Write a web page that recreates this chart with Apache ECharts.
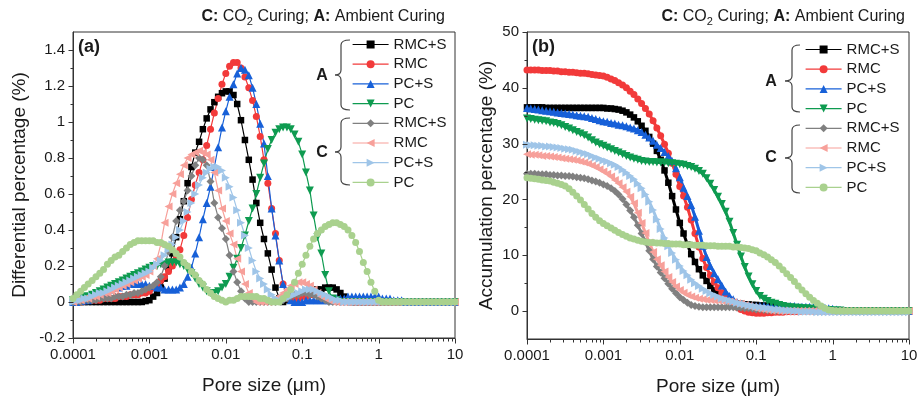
<!DOCTYPE html>
<html>
<head>
<meta charset="utf-8">
<script src="https://cdn.jsdelivr.net/npm/echarts@6/dist/echarts.min.js"></script>
<style>
html,body{margin:0;padding:0;background:#ffffff;}
#chart{width:921px;height:401px;}
</style>
</head>
<body>
<div id="chart"></div>
<script>
// Pore diameters (µm) at which the MIP curves are sampled
const poreSize = [
  1.00e-4,1.12e-4,1.26e-4,1.41e-4,1.58e-4,1.78e-4,2.00e-4,2.24e-4,2.51e-4,2.82e-4,3.16e-4,3.55e-4,3.98e-4,4.47e-4,5.01e-4,5.62e-4,6.31e-4,7.08e-4,7.94e-4,8.91e-4,
  1.00e-3,1.12e-3,1.26e-3,1.41e-3,1.58e-3,1.78e-3,2.00e-3,2.24e-3,2.51e-3,2.82e-3,3.16e-3,3.55e-3,3.98e-3,4.47e-3,5.01e-3,5.62e-3,6.31e-3,7.08e-3,7.94e-3,8.91e-3,
  1.00e-2,1.12e-2,1.26e-2,1.41e-2,1.58e-2,1.78e-2,2.00e-2,2.24e-2,2.51e-2,2.82e-2,3.16e-2,3.55e-2,3.98e-2,4.47e-2,5.01e-2,5.62e-2,6.31e-2,7.08e-2,7.94e-2,8.91e-2,
  0.100,0.112,0.126,0.141,0.158,0.178,0.200,0.224,0.251,0.282,0.316,0.355,0.398,0.447,0.501,0.562,0.631,0.708,0.794,0.891,
  1.00,1.12,1.26,1.41,1.58,1.78,2.00,2.24,2.51,2.82,3.16,3.55,3.98,4.47,5.01,5.62,6.31,7.08,7.94,8.91,
  10.0
];

// Mix labels and curing groups
const mixLabels = ['RMC+S', 'RMC', 'PC+S', 'PC'];
const curingGroups = ['A', 'C'];

// (a) Differential pore size distribution (%)
const diffA_RMCS = [
  0,0,0,0,0,0,0,0,0,0,0,0,0,0,0,0,0,0,0,0.005,
  0.01,0.03,0.05,0.08,0.13,0.19,0.27,0.36,0.46,0.56,0.66,0.75,0.83,0.89,0.96,1.02,1.07,1.11,1.14,1.16,
  1.17,1.17,1.15,1.10,1.01,0.90,0.79,0.68,0.55,0.44,0.35,0.27,0.18,0.08,0.02,0,0.01,0.02,0.03,0.04,
  0.05,0.05,0.06,0.06,0.07,0.07,0.08,0.08,0.08,0.07,0.05,0.03,0.01,0,0,0,0,0,0,0,
  0,0,0,0,0,0,0,0,0,0,0,0,0,0,0,0,0,0,0,0,
  0
];
const diffA_RMC = [
  0,0,0,0.005,0.01,0.01,0.01,0.01,0.02,0.02,0.02,0.02,0.03,0.03,0.03,0.04,0.04,0.04,0.05,0.05,
  0.06,0.08,0.10,0.12,0.14,0.17,0.20,0.24,0.29,0.37,0.47,0.57,0.65,0.72,0.79,0.87,0.96,1.05,1.13,1.21,
  1.27,1.31,1.33,1.33,1.30,1.25,1.19,1.12,1.03,0.92,0.79,0.66,0.52,0.38,0.23,0.10,0.03,0.01,0.01,0.02,
  0.03,0.03,0.04,0.04,0.04,0.03,0.03,0.02,0.01,0.01,0,0,0,0,0,0,0,0,0,0,
  0,0,0,0,0,0,0,0,0,0,0,0,0,0,0,0,0,0,0,0,
  0
];
const diffA_PCS = [
  0,0,0.005,0.01,0.01,0.02,0.03,0.04,0.05,0.06,0.07,0.08,0.08,0.09,0.09,0.10,0.10,0.10,0.10,0.10,
  0.09,0.09,0.08,0.08,0.07,0.07,0.07,0.07,0.08,0.10,0.14,0.19,0.27,0.36,0.46,0.55,0.64,0.75,0.86,0.97,
  1.06,1.14,1.21,1.27,1.30,1.29,1.26,1.19,1.10,0.99,0.88,0.70,0.52,0.37,0.23,0.10,0.03,0.01,0,0,
  0,0.01,0.01,0.01,0.01,0.01,0.01,0.01,0.01,0.02,0.02,0.02,0.03,0.03,0.03,0.03,0.03,0.03,0.03,0.03,
  0.03,0.02,0.02,0.02,0.01,0.01,0.01,0,0,0,0,0,0,0,0,0,0,0,0,0,
  0
];
const diffA_PC = [
  0.01,0.01,0.02,0.03,0.03,0.04,0.05,0.06,0.07,0.08,0.09,0.10,0.11,0.12,0.13,0.14,0.15,0.16,0.17,0.18,
  0.19,0.20,0.20,0.21,0.21,0.22,0.22,0.22,0.21,0.20,0.18,0.16,0.13,0.10,0.08,0.06,0.05,0.05,0.06,0.08,
  0.10,0.14,0.19,0.24,0.30,0.37,0.45,0.52,0.60,0.69,0.77,0.85,0.90,0.94,0.96,0.97,0.97,0.96,0.93,0.89,
  0.82,0.72,0.62,0.48,0.36,0.27,0.15,0.06,0.02,0.01,0,0,0,0,0,0,0,0,0,0,
  0,0,0,0,0,0,0,0,0,0,0,0,0,0,0,0,0,0,0,0,
  0
];
const diffC_RMCS = [
  0,0,0,0.01,0.01,0.01,0.01,0.02,0.02,0.02,0.02,0.03,0.03,0.03,0.04,0.04,0.05,0.05,0.06,0.07,
  0.08,0.09,0.11,0.14,0.20,0.28,0.36,0.45,0.51,0.56,0.62,0.70,0.76,0.80,0.79,0.76,0.67,0.55,0.47,0.41,
  0.35,0.26,0.17,0.11,0.06,0.02,0,0,0,0,0,0,0,0,0.01,0.01,0.02,0.03,0.04,0.04,
  0.05,0.05,0.04,0.04,0.03,0.02,0.01,0,0,0,0,0,0,0,0,0,0,0,0,0,
  0,0,0,0,0,0,0,0,0,0,0,0,0,0,0,0,0,0,0,0,
  0
];
const diffC_RMC = [
  0,0.01,0.01,0.02,0.02,0.03,0.03,0.04,0.05,0.05,0.06,0.07,0.08,0.09,0.10,0.11,0.12,0.13,0.14,0.15,
  0.17,0.20,0.24,0.32,0.44,0.53,0.60,0.66,0.71,0.76,0.80,0.82,0.83,0.84,0.83,0.82,0.79,0.72,0.62,0.52,
  0.45,0.38,0.32,0.24,0.17,0.10,0.05,0.02,0,0,0,0,0.01,0.02,0.03,0.05,0.07,0.09,0.10,0.11,
  0.11,0.10,0.09,0.07,0.05,0.03,0.02,0.01,0,0,0,0,0,0,0,0,0,0,0,0,
  0,0,0,0,0,0,0,0,0,0,0,0,0,0,0,0,0,0,0,0,
  0
];
const diffC_PCS = [
  0,0.01,0.01,0.02,0.02,0.03,0.04,0.05,0.05,0.06,0.07,0.08,0.09,0.10,0.11,0.12,0.13,0.14,0.15,0.16,
  0.17,0.19,0.21,0.23,0.26,0.29,0.32,0.36,0.40,0.45,0.50,0.55,0.60,0.65,0.69,0.72,0.74,0.75,0.75,0.73,
  0.69,0.64,0.58,0.51,0.44,0.37,0.30,0.23,0.17,0.13,0.10,0.07,0.04,0.02,0.01,0.01,0.02,0.03,0.04,0.05,
  0.06,0.07,0.07,0.07,0.06,0.05,0.04,0.03,0.02,0.01,0.01,0,0,0,0,0,0,0,0,0,
  0,0,0,0,0,0,0,0,0,0,0,0,0,0,0,0,0,0,0,0,
  0
];
const diffC_PC = [
  0.02,0.04,0.06,0.08,0.10,0.12,0.14,0.16,0.18,0.21,0.23,0.25,0.26,0.28,0.30,0.32,0.33,0.34,0.34,0.34,
  0.34,0.34,0.33,0.33,0.32,0.31,0.29,0.27,0.25,0.22,0.20,0.17,0.15,0.12,0.10,0.07,0.05,0.03,0.02,0.01,
  0,0.01,0.01,0.02,0.03,0.03,0.03,0.03,0.03,0.02,0.02,0.01,0,0,0,0.02,0.04,0.07,0.11,0.16,
  0.21,0.26,0.31,0.35,0.38,0.40,0.42,0.43,0.44,0.44,0.43,0.42,0.40,0.37,0.33,0.28,0.22,0.17,0.11,0.06,
  0.01,0,0,0,0,0,0,0,0,0,0,0,0,0,0,0,0,0,0,0,
  0
];

// (b) Cumulative intruded pore volume (%)
const cumA_RMCS = [
  36.5,36.5,36.5,36.5,36.5,36.4,36.4,36.4,36.4,36.4,36.4,36.4,36.4,36.4,36.4,36.4,36.4,36.4,36.4,36.4,
  36.4,36.3,36.3,36.2,36.1,35.9,35.6,35.2,34.7,34.0,33.2,32.3,31.2,30.0,28.7,27.1,25.2,23.0,20.6,18.2,
  15.8,13.9,11.9,10.2,8.8,7.5,6.4,5.4,4.5,3.7,3.0,2.5,2.1,1.8,1.6,1.4,1.3,1.2,1.2,1.1,
  1.1,1.0,1.0,0.9,0.9,0.8,0.7,0.6,0.5,0.4,0.4,0.3,0.3,0.2,0.2,0.2,0.1,0.1,0.1,0.1,
  0,0,0,0,0,0,0,0,0,0,0,0,0,0,0,0,0,0,0,0,
  0
];
const cumA_RMC = [
  43.2,43.2,43.2,43.2,43.1,43.1,43.1,43.0,43.0,42.9,42.9,42.8,42.8,42.7,42.6,42.6,42.5,42.4,42.3,42.2,
  42.1,41.9,41.6,41.3,40.9,40.5,40.0,39.4,38.8,38.0,37.2,36.3,35.3,34.1,32.8,31.4,29.9,28.3,26.5,24.5,
  22.3,20.6,18.6,16.3,13.9,11.5,9.4,7.8,6.4,5.2,4.2,3.3,2.6,1.9,1.3,0.7,0.3,0.0,-0.2,-0.3,
  -0.4,-0.4,-0.4,-0.3,-0.3,-0.2,-0.2,-0.2,-0.1,-0.1,-0.1,-0.1,0,0,0,0,0,0,0,0,
  0,0,0,0,0,0,0,0,0,0,0,0,0,0,0,0,0,0,0,0,
  0
];
const cumA_PCS = [
  36.4,36.3,36.2,36.1,36.0,35.9,35.8,35.7,35.6,35.5,35.4,35.3,35.2,35.1,35.0,34.9,34.8,34.6,34.4,34.2,
  34.0,33.9,33.7,33.6,33.4,33.3,33.1,32.9,32.7,32.4,32.1,31.6,31.1,30.5,29.8,29.2,28.5,27.8,26.9,25.6,
  24.0,22.1,20.6,19.0,16.9,14.4,11.7,9.7,8.1,6.8,5.7,4.6,3.5,2.7,2.1,1.6,1.3,1.1,1.0,0.9,
  0.9,0.9,0.9,0.9,0.9,0.9,0.9,0.9,0.9,0.9,0.9,0.8,0.8,0.8,0.8,0.7,0.7,0.6,0.6,0.5,
  0.4,0.3,0.2,0.1,0,0,0,0,0,0,0,0,0,0,0,0,0,0,0,0,
  0
];
const cumA_PC = [
  34.5,34.4,34.3,34.2,34.1,34.0,33.8,33.7,33.5,33.3,33.0,32.7,32.4,32.1,31.8,31.5,31.1,30.6,30.2,29.9,
  29.6,29.3,29.0,28.7,28.4,28.1,27.8,27.5,27.3,27.1,26.9,26.8,26.7,26.7,26.6,26.6,26.6,26.5,26.5,26.4,
  26.3,26.2,26.0,25.8,25.5,25.1,24.6,23.8,22.8,21.7,20.5,19.2,17.8,16.0,14.0,11.9,9.8,7.9,6.2,4.8,
  3.6,2.7,2.2,1.8,1.5,1.3,1.1,0.9,0.8,0.7,0.6,0.6,0.5,0.5,0.4,0.4,0.3,0.3,0.2,0.2,
  0.1,0.1,0.1,0,0,0,0,0,0,0,0,0,0,0,0,0,0,0,0,0,
  0
];
const cumC_RMCS = [
  24.6,24.6,24.6,24.5,24.5,24.5,24.4,24.4,24.3,24.3,24.2,24.2,24.1,24.0,23.9,23.8,23.6,23.4,23.2,23.0,
  22.7,22.4,22.0,21.5,20.9,20.1,19.1,18.0,16.8,15.4,13.9,12.4,10.8,9.3,8.0,6.9,5.9,4.9,4.0,3.2,
  2.5,2.0,1.5,1.1,0.9,0.8,0.7,0.7,0.7,0.7,0.7,0.7,0.7,0.7,0.7,0.6,0.6,0.5,0.5,0.4,
  0.3,0.3,0.2,0.1,0.1,0,0,0,0,0,0,0,0,0,0,0,0,0,0,0,
  0,0,0,0,0,0,0,0,0,0,0,0,0,0,0,0,0,0,0,0,
  0
];
const cumC_RMC = [
  28.1,28.0,28.0,27.9,27.8,27.8,27.7,27.6,27.5,27.4,27.3,27.2,27.1,27.0,26.8,26.6,26.4,26.1,25.8,25.4,
  25.0,24.6,24.1,23.5,22.9,22.2,21.4,20.5,19.3,17.6,15.8,14.0,12.3,10.6,9.3,8.2,7.1,6.1,5.2,4.4,
  3.8,3.3,2.9,2.6,2.4,2.2,2.1,2.0,2.0,1.9,1.9,1.8,1.8,1.7,1.6,1.4,1.3,1.1,0.9,0.7,
  0.5,0.4,0.3,0.2,0.1,0.1,0,0,0,0,0,0,0,0,0,0,0,0,0,0,
  0,0,0,0,0,0,0,0,0,0,0,0,0,0,0,0,0,0,0,0,
  0
];
const cumC_PCS = [
  29.8,29.7,29.7,29.6,29.6,29.5,29.5,29.4,29.3,29.2,29.1,29.0,28.9,28.7,28.5,28.3,28.1,27.8,27.5,27.3,
  27.0,26.8,26.5,26.2,25.8,25.3,24.8,24.2,23.6,22.8,22.0,20.9,19.6,18.1,16.4,14.7,13.1,11.6,10.4,9.2,
  8.1,7.2,6.4,5.6,5.0,4.5,4.0,3.6,3.2,2.9,2.6,2.3,2.1,1.9,1.7,1.5,1.3,1.2,1.0,0.9,
  0.8,0.7,0.6,0.5,0.4,0.3,0.3,0.2,0.1,0.1,0,0,-0.1,-0.1,-0.1,-0.1,-0.2,-0.2,-0.2,-0.2,
  -0.2,-0.2,-0.2,-0.2,-0.2,-0.2,-0.2,-0.2,-0.2,-0.2,-0.2,-0.2,-0.2,-0.2,-0.2,-0.2,-0.2,-0.2,-0.2,-0.2,
  -0.2
];
const cumC_PC = [
  23.9,23.8,23.7,23.6,23.5,23.4,23.3,23.1,22.9,22.7,22.4,21.9,21.3,20.6,19.9,19.1,18.3,17.5,16.8,16.2,
  15.7,15.3,14.9,14.5,14.1,13.7,13.4,13.1,12.9,12.7,12.5,12.4,12.3,12.3,12.2,12.2,12.1,12.1,12.0,12.0,
  12.0,11.9,11.9,11.9,11.8,11.8,11.8,11.7,11.7,11.7,11.6,11.6,11.6,11.6,11.5,11.5,11.4,11.3,11.2,11.0,
  10.8,10.4,10.1,9.7,9.2,8.7,8.1,7.4,6.7,6.0,5.3,4.5,3.8,3.1,2.5,1.9,1.4,0.9,0.5,0.2,
  0.1,0,0,0,0,0,0,0,0,0,0,0,0,0,0,0,0,0,0,0,
  0
];

// Axis tick values and labels
const poreTickLabels = ['0.0001', '0.001', '0.01', '0.1', '1', '10'];
const poreMajorTicks = [1e-4, 1e-3, 1e-2, 1e-1, 1, 10];
const poreMinorTicks = [
  2e-4,3e-4,4e-4,5e-4,6e-4,7e-4,8e-4,9e-4,
  2e-3,3e-3,4e-3,5e-3,6e-3,7e-3,8e-3,9e-3,
  0.02,0.03,0.04,0.05,0.06,0.07,0.08,0.09,
  0.2,0.3,0.4,0.5,0.6,0.7,0.8,0.9,
  2,3,4,5,6,7,8,9
];
const diffMajorTicks = [-0.2, 0, 0.2, 0.4, 0.6, 0.8, 1.0, 1.2, 1.4];
const diffMinorTicks = [-0.1, 0.1, 0.3, 0.5, 0.7, 0.9, 1.1, 1.3];
const cumMajorTicks = [0, 10, 20, 30, 40, 50];
const cumMinorTicks = [5, 15, 25, 35, 45];

// ---- styling ----
const FONT = "'Liberation Sans', Arial, sans-serif";
const AXIS_COLOR = '#333333';
const TEXT_COLOR = '#1a1a1a';
const TICK_OUT = 1;          // 1 = ticks point outwards
const MAJOR_LEN = 5, MINOR_LEN = 3;

const seriesStyles = [
  { color: '#000000', symbol: 'rect', size: 6.5 },
  { color: '#f23a3a', symbol: 'circle', size: 7 },
  { color: '#1760d8', symbol: 'triangle', size: 8 },
  { color: '#0e9b50', symbol: 'path://M0,0L10,0L5,9Z', size: 8 },
  { color: '#808080', symbol: 'diamond', size: 8 },
  { color: '#f7a09a', symbol: 'path://M9,0L9,10L0,5Z', size: 8 },
  { color: '#9fc5e8', symbol: 'path://M0,0L0,10L9,5Z', size: 8 },
  { color: '#a9d18e', symbol: 'circle', size: 7 }
];

const diffData = [diffA_RMCS, diffA_RMC, diffA_PCS, diffA_PC, diffC_RMCS, diffC_RMC, diffC_PCS, diffC_PC];
const cumData = [cumA_RMCS, cumA_RMC, cumA_PCS, cumA_PC, cumC_RMCS, cumC_RMC, cumC_PCS, cumC_PC];

function seriesName(panel, i) {
  return panel + '-' + curingGroups[Math.floor(i / 4)] + '-' + mixLabels[i % 4];
}

function curveSeries(panel, axisIdx, dataList, lineWidth) {
  return dataList.map((vals, i) => {
    const st = seriesStyles[i];
    return {
      name: seriesName(panel, i),
      type: 'line',
      xAxisIndex: axisIdx,
      yAxisIndex: axisIdx,
      data: poreSize.map((x, j) => [x, vals[j]]),
      symbol: st.symbol,
      symbolSize: st.size,
      showSymbol: true,
      showAllSymbol: true,
      lineStyle: { color: st.color, width: lineWidth },
      itemStyle: { color: st.color, borderWidth: 0 },
      emphasis: { disabled: true },
      animation: false,
      z: 2
    };
  });
}

// Tick marks drawn through the axes' own coordinate mapping
function tickSeries(axisIdx, xFloor, yFloor, xMaj, xMin, yMaj, yMin) {
  const items = [];
  xMaj.forEach(v => items.push([v, yFloor, 0, MAJOR_LEN]));
  xMin.forEach(v => items.push([v, yFloor, 0, MINOR_LEN]));
  yMaj.forEach(v => items.push([xFloor, v, 1, MAJOR_LEN]));
  yMin.forEach(v => items.push([xFloor, v, 1, MINOR_LEN]));
  return {
    type: 'custom',
    xAxisIndex: axisIdx,
    yAxisIndex: axisIdx,
    silent: true,
    clip: false,
    z: 5,
    animation: false,
    data: items,
    renderItem: function (params, api) {
      const p = api.coord([api.value(0), api.value(1)]);
      const kind = api.value(2);
      const len = api.value(3);
      const x = Math.round(p[0]) + 0.5;
      const y = Math.round(p[1]) + 0.5;
      const shape = kind === 0
        ? { x1: x, y1: y, x2: x, y2: y + TICK_OUT * len }
        : { x1: x, y1: y, x2: x - TICK_OUT * len, y2: y };
      return { type: 'line', shape: shape, style: { stroke: AXIS_COLOR, lineWidth: 1 } };
    }
  };
}

// Curly brace made of straight strokes and quadratic hooks
function braceEls(xv, y0, y1, ym, xt, xe) {
  const r = 5;
  const st = { stroke: '#444444', lineWidth: 1.2, fill: null };
  const curve = (x1, y1_, cx, cy, x2, y2) => ({
    type: 'bezierCurve', silent: true, style: st,
    shape: { x1: x1, y1: y1_, cpx1: cx, cpy1: cy, x2: x2, y2: y2 }
  });
  const seg = (x1, y1_, x2, y2) => ({
    type: 'line', silent: true, style: st, shape: { x1: x1, y1: y1_, x2: x2, y2: y2 }
  });
  return [
    curve(xe, y0, xv, y0, xv, y0 + r),
    seg(xv, y0 + r, xv, ym - r),
    curve(xv, ym - r, xv, ym, xt, ym),
    curve(xt, ym, xv, ym, xv, ym + r),
    seg(xv, ym + r, xv, y1 - r),
    curve(xv, y1 - r, xv, y1, xe, y1)
  ];
}

function poreAxis(gridIdx) {
  return {
    type: 'log', logBase: 10, gridIndex: gridIdx,
    min: 1e-4, max: 10,
    name: 'Pore size (\u03bcm)', nameLocation: 'middle', nameGap: 38,
    nameTextStyle: { fontFamily: FONT, fontSize: 19, color: TEXT_COLOR },
    axisLine: { show: true, onZero: false, lineStyle: { color: AXIS_COLOR, width: 1 } },
    axisTick: { show: false },
    minorTick: { show: false },
    splitLine: { show: false },
    axisLabel: {
      margin: 9, fontFamily: FONT, fontSize: 15, color: TEXT_COLOR,
      formatter: v => poreTickLabels[Math.round(Math.log10(v)) + 4]
    }
  };
}

const legendCommon = {
  orient: 'vertical',
  itemWidth: 36, itemHeight: 10, itemGap: 4.7,
  padding: 0,
  selectedMode: false,
  lineStyle: { width: 1.2 },
  textStyle: { fontFamily: FONT, fontSize: 15, color: TEXT_COLOR, lineHeight: 15 },
  formatter: name => name.split('-').slice(2).join('-')
};

const titleRich = {
  b: { fontFamily: FONT, fontSize: 16, fontWeight: 'bold', fill: TEXT_COLOR, lineHeight: 20 },
  n: { fontFamily: FONT, fontSize: 16, fill: TEXT_COLOR, lineHeight: 20 },
  s: { fontFamily: FONT, fontSize: 11, fill: TEXT_COLOR, lineHeight: 20, verticalAlign: 'bottom' }
};
const titleText = '{b|C:}{n| CO}{s|2}{n| Curing; }{b|A:}{n| Ambient Curing}';

function textEl(x, y, text, size, weight, align) {
  return {
    type: 'text', x: x, y: y, silent: true,
    style: { text: text, fontFamily: FONT, fontSize: size, fontWeight: weight,
      fill: TEXT_COLOR, align: align, verticalAlign: 'middle' }
  };
}

const option = {
  backgroundColor: '#ffffff',
  animation: false,
  grid: [
    { left: 73, top: 32, width: 382, height: 306, show: true, borderColor: AXIS_COLOR, borderWidth: 1, backgroundColor: 'transparent', containLabel: false, outerBoundsMode: 'none' },
    { left: 527, top: 32, width: 382, height: 307, show: true, borderColor: AXIS_COLOR, borderWidth: 1, backgroundColor: 'transparent', containLabel: false, outerBoundsMode: 'none' }
  ],
  xAxis: [poreAxis(0), poreAxis(1)],
  yAxis: [
    {
      type: 'value', gridIndex: 0, min: -0.2, max: 1.5, interval: 0.2,
      name: 'Differential percentage (%)', nameLocation: 'middle', nameGap: 44,
      nameTextStyle: { fontFamily: FONT, fontSize: 19, color: TEXT_COLOR },
      axisLine: { show: true, onZero: false, lineStyle: { color: AXIS_COLOR, width: 1 } },
      axisTick: { show: false }, splitLine: { show: false },
      axisLabel: {
        margin: 8, fontFamily: FONT, fontSize: 15, color: TEXT_COLOR,
        formatter: v => (v > 1.45 ? '' : String(+v.toFixed(1)))
      }
    },
    {
      type: 'value', gridIndex: 1, min: -5, max: 50, interval: 5,
      name: 'Accumulation percentage (%)', nameLocation: 'middle', nameGap: 31,
      nameTextStyle: { fontFamily: FONT, fontSize: 19, color: TEXT_COLOR },
      axisLine: { show: true, onZero: false, lineStyle: { color: AXIS_COLOR, width: 1 } },
      axisTick: { show: false }, splitLine: { show: false },
      axisLabel: {
        margin: 8, fontFamily: FONT, fontSize: 15, color: TEXT_COLOR,
        formatter: v => (Math.round(v) % 10 === 0 ? String(Math.round(v)) : '')
      }
    }
  ],
  legend: [
    Object.assign({}, legendCommon, { left: 352, top: 37, data: diffData.map((d, i) => seriesName('a', i)) }),
    Object.assign({}, legendCommon, { left: 805, top: 42, data: cumData.map((d, i) => seriesName('b', i)) })
  ],
  graphic: [].concat(
    [
      { type: 'text', x: 445, y: 17, silent: true, style: { text: titleText, rich: titleRich, align: 'right', verticalAlign: 'middle' } },
      { type: 'text', x: 905, y: 17, silent: true, style: { text: titleText, rich: titleRich, align: 'right', verticalAlign: 'middle' } },
      textEl(78, 47, '(a)', 18, 'bold', 'left'),
      textEl(532, 47, '(b)', 18, 'bold', 'left'),
      textEl(322, 76, 'A', 16, 'bold', 'center'),
      textEl(322, 153, 'C', 16, 'bold', 'center'),
      textEl(771, 82, 'A', 16, 'bold', 'center'),
      textEl(771, 158, 'C', 16, 'bold', 'center')
    ],
    braceEls(341, 40, 110, 75, 335, 350),
    braceEls(341, 118, 185, 152, 335, 350),
    braceEls(792, 45, 112, 81, 785, 800),
    braceEls(792, 125, 193, 158, 785, 800)
  ),
  series: [].concat(
    curveSeries('a', 0, diffData, 1.2),
    curveSeries('b', 1, cumData, 3),
    [
      tickSeries(0, 1e-4, -0.2, poreMajorTicks, poreMinorTicks, diffMajorTicks, diffMinorTicks),
      tickSeries(1, 1e-4, -5, poreMajorTicks, poreMinorTicks, cumMajorTicks, cumMinorTicks)
    ]
  )
};

const chart = echarts.init(document.getElementById('chart'), null, { renderer: 'canvas', width: 921, height: 401 });
chart.setOption(option);
</script>
</body>
</html>
